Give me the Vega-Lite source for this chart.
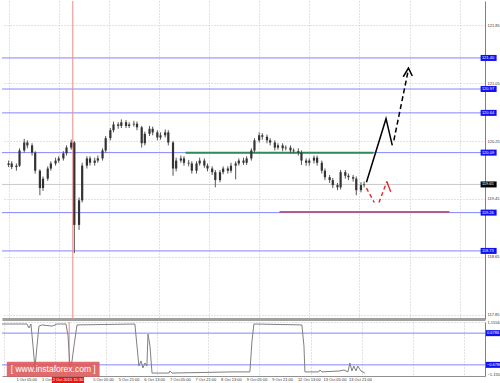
{
  "$schema": "https://vega.github.io/schema/vega-lite/v6.json",
  "padding": 0,
  "background": "white",
  "spacing": 0,
  "config": {
    "view": {"stroke": null},
    "font": "Liberation Sans",
    "axis": {"labelFont": "Liberation Sans", "labelFontSize": 4, "labelColor": "#333", "gridColor": "#c4c4c4", "gridDash": [1, 2], "gridWidth": 1, "labelOverlap": false, "labelBound": false, "labelFlush": false, "title": null}
  },
  "datasets": {
    "candles": [
      {"b":1,"o":119.92,"h":119.98,"l":119.89,"c":119.94},
      {"b":3,"o":119.94,"h":119.97,"l":119.86,"c":119.89},
      {"b":6,"o":119.89,"h":119.94,"l":119.84,"c":119.91},
      {"b":8,"o":119.91,"h":120.15,"l":119.89,"c":120.12},
      {"b":11,"o":120.12,"h":120.28,"l":120.09,"c":120.23},
      {"b":13,"o":120.23,"h":120.26,"l":120.15,"c":120.19},
      {"b":16,"o":120.19,"h":120.22,"l":120.05,"c":120.09},
      {"b":18,"o":120.09,"h":120.11,"l":119.80,"c":119.84},
      {"b":21,"o":119.84,"h":119.86,"l":119.50,"c":119.60},
      {"b":23,"o":119.60,"h":119.76,"l":119.56,"c":119.73},
      {"b":26,"o":119.73,"h":119.90,"l":119.70,"c":119.87},
      {"b":28,"o":119.87,"h":119.97,"l":119.84,"c":119.94},
      {"b":31,"o":119.94,"h":120.02,"l":119.91,"c":119.98},
      {"b":33,"o":119.98,"h":120.04,"l":119.95,"c":120.01},
      {"b":36,"o":120.01,"h":120.11,"l":119.98,"c":120.08},
      {"b":38,"o":120.08,"h":120.19,"l":120.05,"c":120.16},
      {"b":41,"o":120.16,"h":120.27,"l":120.13,"c":120.23},
      {"b":43,"o":120.23,"h":120.25,"l":118.70,"c":119.09},
      {"b":46,"o":119.09,"h":119.47,"l":119.02,"c":119.43},
      {"b":48,"o":119.43,"h":119.95,"l":119.40,"c":119.91},
      {"b":51,"o":119.91,"h":120.04,"l":119.87,"c":120.01},
      {"b":53,"o":120.01,"h":120.04,"l":119.91,"c":119.95},
      {"b":56,"o":119.95,"h":120.02,"l":119.91,"c":119.98},
      {"b":58,"o":119.98,"h":120.05,"l":119.95,"c":120.01},
      {"b":61,"o":120.01,"h":120.15,"l":119.98,"c":120.12},
      {"b":63,"o":120.12,"h":120.32,"l":120.09,"c":120.29},
      {"b":66,"o":120.29,"h":120.43,"l":120.26,"c":120.40},
      {"b":68,"o":120.40,"h":120.52,"l":120.37,"c":120.48},
      {"b":71,"o":120.48,"h":120.51,"l":120.42,"c":120.46},
      {"b":73,"o":120.46,"h":120.55,"l":120.43,"c":120.51},
      {"b":76,"o":120.51,"h":120.54,"l":120.43,"c":120.46},
      {"b":78,"o":120.46,"h":120.51,"l":120.43,"c":120.48},
      {"b":81,"o":120.48,"h":120.53,"l":120.45,"c":120.49},
      {"b":83,"o":120.49,"h":120.52,"l":120.40,"c":120.44},
      {"b":86,"o":120.44,"h":120.46,"l":120.16,"c":120.22},
      {"b":88,"o":120.22,"h":120.38,"l":120.19,"c":120.35},
      {"b":91,"o":120.35,"h":120.46,"l":120.32,"c":120.42},
      {"b":93,"o":120.42,"h":120.45,"l":120.33,"c":120.37},
      {"b":96,"o":120.37,"h":120.40,"l":120.26,"c":120.30},
      {"b":98,"o":120.30,"h":120.37,"l":120.27,"c":120.33},
      {"b":101,"o":120.33,"h":120.41,"l":120.30,"c":120.37},
      {"b":103,"o":120.37,"h":120.40,"l":120.19,"c":120.23},
      {"b":106,"o":120.23,"h":120.25,"l":119.77,"c":119.87},
      {"b":108,"o":119.87,"h":120.02,"l":119.83,"c":119.98},
      {"b":111,"o":119.98,"h":120.05,"l":119.95,"c":120.01},
      {"b":113,"o":120.01,"h":120.04,"l":119.91,"c":119.95},
      {"b":116,"o":119.95,"h":119.99,"l":119.90,"c":119.94},
      {"b":118,"o":119.94,"h":119.97,"l":119.80,"c":119.84},
      {"b":121,"o":119.84,"h":119.97,"l":119.80,"c":119.94},
      {"b":123,"o":119.94,"h":120.02,"l":119.91,"c":119.98},
      {"b":126,"o":119.98,"h":120.01,"l":119.88,"c":119.91},
      {"b":128,"o":119.91,"h":119.94,"l":119.83,"c":119.87},
      {"b":131,"o":119.87,"h":119.90,"l":119.78,"c":119.82},
      {"b":133,"o":119.82,"h":119.85,"l":119.61,"c":119.71},
      {"b":136,"o":119.71,"h":119.85,"l":119.68,"c":119.82},
      {"b":138,"o":119.82,"h":119.90,"l":119.79,"c":119.87},
      {"b":141,"o":119.87,"h":119.90,"l":119.80,"c":119.84},
      {"b":143,"o":119.84,"h":119.95,"l":119.81,"c":119.91},
      {"b":146,"o":119.91,"h":119.97,"l":119.72,"c":119.94},
      {"b":148,"o":119.94,"h":120.01,"l":119.91,"c":119.98},
      {"b":151,"o":119.98,"h":120.02,"l":119.92,"c":119.95},
      {"b":153,"o":119.95,"h":120.04,"l":119.92,"c":120.01},
      {"b":156,"o":120.01,"h":120.15,"l":119.98,"c":120.12},
      {"b":158,"o":120.12,"h":120.29,"l":120.09,"c":120.26},
      {"b":161,"o":120.26,"h":120.37,"l":120.23,"c":120.33},
      {"b":163,"o":120.33,"h":120.36,"l":120.27,"c":120.31},
      {"b":166,"o":120.31,"h":120.34,"l":120.22,"c":120.26},
      {"b":168,"o":120.26,"h":120.29,"l":120.19,"c":120.23},
      {"b":171,"o":120.23,"h":120.26,"l":120.12,"c":120.16},
      {"b":173,"o":120.16,"h":120.22,"l":120.13,"c":120.19},
      {"b":176,"o":120.19,"h":120.22,"l":120.11,"c":120.15},
      {"b":178,"o":120.15,"h":120.19,"l":120.12,"c":120.16},
      {"b":181,"o":120.16,"h":120.19,"l":120.08,"c":120.12},
      {"b":183,"o":120.12,"h":120.15,"l":120.08,"c":120.11},
      {"b":186,"o":120.11,"h":120.15,"l":120.05,"c":120.09},
      {"b":188,"o":120.09,"h":120.12,"l":119.92,"c":119.98},
      {"b":191,"o":119.98,"h":120.01,"l":119.91,"c":119.95},
      {"b":193,"o":119.95,"h":120.01,"l":119.91,"c":119.98},
      {"b":196,"o":119.98,"h":120.05,"l":119.94,"c":120.02},
      {"b":198,"o":120.02,"h":120.05,"l":119.91,"c":119.95},
      {"b":201,"o":119.95,"h":119.98,"l":119.80,"c":119.84},
      {"b":203,"o":119.84,"h":119.87,"l":119.71,"c":119.75},
      {"b":206,"o":119.75,"h":119.78,"l":119.67,"c":119.71},
      {"b":208,"o":119.71,"h":119.74,"l":119.60,"c":119.64},
      {"b":211,"o":119.64,"h":119.67,"l":119.57,"c":119.61},
      {"b":213,"o":119.61,"h":119.85,"l":119.58,"c":119.82},
      {"b":216,"o":119.82,"h":119.85,"l":119.73,"c":119.77},
      {"b":218,"o":119.77,"h":119.80,"l":119.71,"c":119.75},
      {"b":221,"o":119.75,"h":119.78,"l":119.69,"c":119.73},
      {"b":223,"o":119.73,"h":119.76,"l":119.50,"c":119.57},
      {"b":226,"o":119.57,"h":119.68,"l":119.54,"c":119.64},
      {"b":228,"o":119.64,"h":119.69,"l":119.61,"c":119.65}
    ],
    "levels": [
      {"price":121.40,"kind":"level"},
      {"price":120.97,"kind":"level"},
      {"price":120.64,"kind":"level"},
      {"price":120.09,"kind":"level"},
      {"price":119.26,"kind":"level"},
      {"price":118.73,"kind":"level"}
    ],
    "osc": [
      {"b":0,"v":1.07},{"b":15.6,"v":1.07},{"b":16.9,"v":0.9},{"b":18.1,"v":1.07},
      {"b":19.4,"v":0.13},{"b":20.6,"v":-0.81},{"b":21.9,"v":0.13},{"b":23.1,"v":0.98},
      {"b":25,"v":1.03},{"b":31.3,"v":0.98},{"b":34.4,"v":1.07},{"b":40,"v":1.07},
      {"b":41.3,"v":0.56},{"b":42.5,"v":-0.81},{"b":43.8,"v":-0.51},{"b":45,"v":0.13},
      {"b":46.9,"v":1.03},{"b":83.1,"v":1.07},{"b":84.4,"v":0.13},{"b":85.6,"v":-0.73},
      {"b":86.9,"v":-0.51},{"b":88.1,"v":-0.81},{"b":89.4,"v":-0.6},{"b":90.6,"v":-0.73},
      {"b":91.3,"v":0.64},{"b":92.5,"v":0.13},{"b":93.8,"v":-1.03},{"b":104.4,"v":-1.03},
      {"b":105,"v":-0.94},{"b":106.3,"v":-1.03},{"b":143.8,"v":-0.98},{"b":155,"v":-0.98},
      {"b":156.3,"v":0.34},{"b":157.5,"v":1.07},{"b":187.5,"v":1.03},{"b":188.8,"v":0.13},
      {"b":189.4,"v":-0.98},{"b":198,"v":-0.98},{"b":198.8,"v":-0.9},{"b":200,"v":-0.98},
      {"b":211,"v":-0.94},{"b":213.8,"v":-0.9},{"b":216.3,"v":-0.98},{"b":217.5,"v":-0.6},
      {"b":218.8,"v":-0.94},{"b":220,"v":-0.73},{"b":221.3,"v":-0.94},{"b":222.5,"v":-0.73},
      {"b":224.4,"v":-0.94},{"b":226.9,"v":-1.03}
    ],
    "paths": [
      {"path":"blackSolid","ord":1,"b":229.5,"p":119.68},
      {"path":"blackSolid","ord":2,"b":242,"p":120.56},
      {"path":"blackSolid","ord":3,"b":246,"p":120.19},
      {"path":"blackHead","ord":1,"b":253,"p":121.14},
      {"path":"blackHead","ord":2,"b":256.3,"p":121.26},
      {"path":"blackHead","ord":3,"b":258.8,"p":121.15},
      {"path":"blackDash","ord":1,"b":247,"p":120.26},
      {"path":"blackDash","ord":2,"b":256.3,"p":121.24},
      {"path":"redDash1","ord":1,"b":229.5,"p":119.60},
      {"path":"redDash1","ord":2,"b":234.5,"p":119.40},
      {"path":"redDash2","ord":1,"b":237.5,"p":119.40},
      {"path":"redDash2","ord":2,"b":242.5,"p":119.69},
      {"path":"redHead","ord":1,"b":242.5,"p":119.69},
      {"path":"redHead","ord":2,"b":245,"p":119.55}
    ],
    "timeLabels": [
      {"b":9,"lab":"1 Oct 05:00"},
      {"b":25,"lab":"1 Oct 21:00"},
      {"b":57,"lab":"5 Oct 05:00"},
      {"b":73,"lab":"5 Oct 21:00"},
      {"b":89,"lab":"6 Oct 13:00"},
      {"b":105,"lab":"7 Oct 05:00"},
      {"b":121,"lab":"7 Oct 21:00"},
      {"b":137,"lab":"8 Oct 13:00"},
      {"b":153,"lab":"9 Oct 05:00"},
      {"b":169,"lab":"9 Oct 21:00"},
      {"b":185,"lab":"12 Oct 13:00"},
      {"b":201,"lab":"13 Oct 05:00"},
      {"b":217,"lab":"13 Oct 21:00"}
    ]
  },
  "vconcat": [
    {
      "width": 483,
      "height": 318,
      "layer": [
        {
          "data": {"name": "levels"},
          "mark": {"type": "rule", "color": "#8585ff", "strokeWidth": 1},
          "encoding": {
            "y": {"field": "price", "type": "quantitative", "scale": {"domain": [117.788, 122.188], "nice": false, "zero": false},
              "axis": {"orient": "right", "values": [117.85,118.05,118.25,118.45,118.65,118.85,119.05,119.25,119.45,119.65,119.85,120.05,120.25,120.45,120.65,120.85,121.05,121.25,121.45,121.65,121.85,122.05], "format": ".2f", "ticks": false, "labelPadding": 2, "domainColor": "#808080", "domainWidth": 1, "grid": true}}
          }
        },
        {
          "data": {"values": [{"price": 119.65}]},
          "mark": {"type": "rule", "color": "#c8c8c8", "strokeWidth": 1},
          "encoding": {"y": {"field": "price", "type": "quantitative"}}
        },
        {
          "data": {"values": [{"b": 42}]},
          "mark": {"type": "rule", "color": "#f08a8a", "strokeWidth": 1},
          "encoding": {
            "x": {"field": "b", "type": "quantitative", "scale": {"domain": [0, 302], "nice": false, "zero": false},
              "axis": {"orient": "bottom", "values": [1,9,17,25,33,41,49,57,65,73,81,89,97,105,113,121,129,137,145,153,161,169,177,185,193,201,209,217,225,233,241,249,257,265,273,281,289,297], "labels": false, "ticks": false, "grid": true, "domainColor": "#a0a0a0", "domainWidth": 3}}
          }
        },
        {
          "data": {"values": [{"b1": 114, "b2": 234, "p": 120.09}]},
          "mark": {"type": "rule", "color": "#2e8b57", "strokeWidth": 2},
          "encoding": {
            "x": {"field": "b1", "type": "quantitative"},
            "x2": {"field": "b2"},
            "y": {"field": "p", "type": "quantitative"}
          }
        },
        {
          "data": {"values": [{"b1": 174, "b2": 282.5, "p": 119.27}]},
          "mark": {"type": "rule", "color": "#cc2222", "strokeWidth": 1.3},
          "encoding": {
            "x": {"field": "b1", "type": "quantitative"},
            "x2": {"field": "b2"},
            "y": {"field": "p", "type": "quantitative"}
          }
        },
        {
          "data": {"name": "candles"},
          "mark": {"type": "rule", "color": "#555555", "strokeWidth": 1},
          "encoding": {
            "x": {"field": "b", "type": "quantitative"},
            "y": {"field": "l", "type": "quantitative"},
            "y2": {"field": "h"}
          }
        },
        {
          "data": {"name": "candles"},
          "mark": {"type": "bar", "color": "#333333", "width": 2.2},
          "encoding": {
            "x": {"field": "b", "type": "quantitative"},
            "y": {"field": "o", "type": "quantitative"},
            "y2": {"field": "c"}
          }
        },
        {
          "data": {"name": "paths"},
          "transform": [{"filter": "datum.path == 'blackSolid' || datum.path == 'blackHead'"}],
          "mark": {"type": "line", "color": "#000000", "strokeWidth": 1.5},
          "encoding": {
            "x": {"field": "b", "type": "quantitative"},
            "y": {"field": "p", "type": "quantitative"},
            "detail": {"field": "path"},
            "order": {"field": "ord"}
          }
        },
        {
          "data": {"name": "paths"},
          "transform": [{"filter": "datum.path == 'blackDash'"}],
          "mark": {"type": "line", "color": "#000000", "strokeWidth": 1.5, "strokeDash": [5, 3]},
          "encoding": {
            "x": {"field": "b", "type": "quantitative"},
            "y": {"field": "p", "type": "quantitative"},
            "order": {"field": "ord"}
          }
        },
        {
          "data": {"name": "paths"},
          "transform": [{"filter": "datum.path == 'redDash1' || datum.path == 'redDash2'"}],
          "mark": {"type": "line", "color": "#e02a2a", "strokeWidth": 1.4, "strokeDash": [4, 3]},
          "encoding": {
            "x": {"field": "b", "type": "quantitative"},
            "y": {"field": "p", "type": "quantitative"},
            "detail": {"field": "path"},
            "order": {"field": "ord"}
          }
        },
        {
          "data": {"name": "paths"},
          "transform": [{"filter": "datum.path == 'redHead'"}],
          "mark": {"type": "line", "color": "#e02a2a", "strokeWidth": 1.4},
          "encoding": {
            "x": {"field": "b", "type": "quantitative"},
            "y": {"field": "p", "type": "quantitative"},
            "order": {"field": "ord"}
          }
        },
        {
          "data": {"name": "levels"},
          "mark": {"type": "tick", "orient": "horizontal", "size": 16, "thickness": 6, "color": "#1010f0", "opacity": 1},
          "encoding": {
            "x": {"datum": 307.5},
            "y": {"field": "price", "type": "quantitative"}
          }
        },
        {
          "data": {"name": "levels"},
          "mark": {"type": "text", "align": "left", "baseline": "middle", "fontSize": 4, "color": "white"},
          "encoding": {
            "x": {"datum": 303.2},
            "y": {"field": "price", "type": "quantitative"},
            "text": {"field": "price", "type": "quantitative", "format": ".2f"}
          }
        },
        {
          "data": {"values": [{"price": 119.65}]},
          "mark": {"type": "tick", "orient": "horizontal", "size": 16, "thickness": 6, "color": "#000000", "opacity": 1},
          "encoding": {
            "x": {"datum": 307.5},
            "y": {"field": "price", "type": "quantitative"}
          }
        },
        {
          "data": {"values": [{"price": 119.65}]},
          "mark": {"type": "text", "align": "left", "baseline": "middle", "fontSize": 4, "color": "white"},
          "encoding": {
            "x": {"datum": 303.2},
            "y": {"field": "price", "type": "quantitative"},
            "text": {"field": "price", "type": "quantitative", "format": ".2f"}
          }
        }
      ]
    },
    {
      "width": 483,
      "height": 54,
      "layer": [
        {
          "data": {"values": [{"v": 0.6786}, {"v": -0.6786}]},
          "mark": {"type": "rule", "color": "#8585ff", "strokeWidth": 1},
          "encoding": {
            "y": {"field": "v", "type": "quantitative", "scale": {"domain": [-1.1556, 1.1556], "nice": false, "zero": false},
              "axis": {"orient": "right", "values": [1.1556, 0, -1.1556], "labelExpr": "datum.value == 0 ? '0.00' : format(datum.value, '.4f')", "labelBaseline": {"condition": {"test": "datum.value < -1", "value": "bottom"}, "value": "middle"}, "ticks": false, "labelPadding": 2, "domainColor": "#808080", "grid": true}}
          }
        },
        {
          "data": {"values": [{"b": 42}]},
          "mark": {"type": "rule", "color": "#f08a8a", "strokeWidth": 1},
          "encoding": {
            "x": {"field": "b", "type": "quantitative", "scale": {"domain": [0, 302], "nice": false, "zero": false},
              "axis": {"orient": "bottom", "values": [1,9,17,25,33,41,49,57,65,73,81,89,97,105,113,121,129,137,145,153,161,169,177,185,193,201,209,217,225,233,241,249,257,265,273,281,289,297],
                "labels": false, "ticks": false, "grid": true, "domainColor": "#909090"}}
          }
        },
        {
          "data": {"name": "osc"},
          "mark": {"type": "line", "color": "#808080", "strokeWidth": 1},
          "encoding": {
            "x": {"field": "b", "type": "quantitative"},
            "y": {"field": "v", "type": "quantitative"}
          }
        },
        {
          "data": {"values": [{"v": 0.6786}, {"v": -0.6786}]},
          "mark": {"type": "tick", "orient": "horizontal", "size": 16, "thickness": 6, "color": "#1010f0", "opacity": 1},
          "encoding": {
            "x": {"datum": 307.5},
            "y": {"field": "v", "type": "quantitative"}
          }
        },
        {
          "data": {"values": [{"v": 0.6786}, {"v": -0.6786}]},
          "mark": {"type": "text", "align": "left", "baseline": "middle", "fontSize": 4, "color": "white"},
          "encoding": {
            "x": {"datum": 303.2},
            "y": {"field": "v", "type": "quantitative"},
            "text": {"field": "v", "type": "quantitative", "format": ".4f"}
          }
        },
        {
          "data": {"name": "timeLabels"},
          "mark": {"type": "text", "align": "left", "baseline": "middle", "fontSize": 4, "color": "#333333"},
          "encoding": {
            "x": {"field": "b", "type": "quantitative"},
            "y": {"datum": -1.33},
            "text": {"field": "lab"}
          }
        },
        {
          "data": {"values": [{"t": "[ www.instaforex.com ]"}]},
          "mark": {"type": "rect", "color": "#dd5555", "opacity": 0.88},
          "encoding": {
            "x": {"datum": 3},
            "x2": {"datum": 61},
            "y": {"datum": -0.55},
            "y2": {"datum": -1.19}
          }
        },
        {
          "data": {"values": [{"t": "[ www.instaforex.com ]"}]},
          "mark": {"type": "text", "color": "white", "fontSize": 8.5, "align": "center", "baseline": "middle", "font": "Liberation Sans"},
          "encoding": {
            "x": {"datum": 32},
            "y": {"datum": -0.87},
            "text": {"field": "t"}
          }
        },
        {
          "data": {"values": [{"t": "2 Oct 2015 15:30"}]},
          "mark": {"type": "rect", "color": "#ee1111", "opacity": 1},
          "encoding": {
            "x": {"datum": 31.2},
            "x2": {"datum": 51.3},
            "y": {"datum": -1.2},
            "y2": {"datum": -1.45}
          }
        },
        {
          "data": {"values": [{"t": "2 Oct 2015 15:30"}]},
          "mark": {"type": "text", "color": "white", "fontSize": 4, "align": "center", "baseline": "middle"},
          "encoding": {
            "x": {"datum": 41.3},
            "y": {"datum": -1.33},
            "text": {"field": "t"}
          }
        }
      ]
    }
  ]
}
